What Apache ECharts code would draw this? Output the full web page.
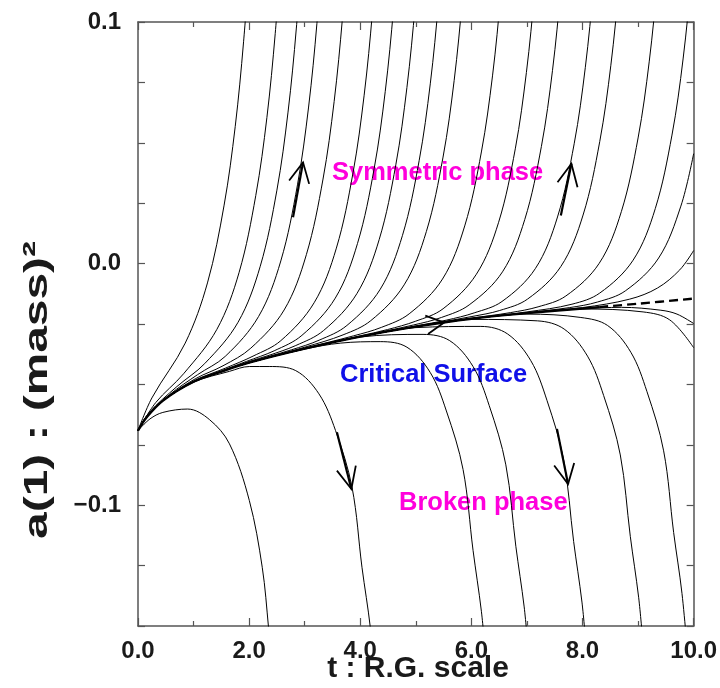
<!DOCTYPE html>
<html>
<head>
  <meta charset="utf-8">
  <title>RG flow of a(1)</title>
  <script src="https://cdn.jsdelivr.net/npm/echarts@6/dist/echarts.min.js"></script>
  <style>html, body { margin: 0; padding: 0; background: #fff; }</style>
</head>
<body>
  <div id="main" style="width: 720px; height: 688px;"></div>

  <script>
    // trajectories that run off into the symmetric phase  [t, a(1)]
    const sym1 = [[0,-0.0691],[0.25,-0.0556],[0.85,-0.0329],[1.25,-0.0080],[1.55,0.0242],[1.75,0.0568],[1.9,0.0918],[2.05,0.1377]];
    const sym2 = [[0,-0.0691],[0.32,-0.0575],[0.82,-0.0456],[1.42,-0.0272],[1.82,-0.0036],[2.12,0.0282],[2.32,0.0605],[2.47,0.0953],[2.62,0.1410]];
    const sym3 = [[0,-0.0691],[0.2,-0.0617],[0.7,-0.0509],[1.2,-0.0414],[1.8,-0.0243],[2.2,-0.0011],[2.5,0.0304],[2.7,0.0627],[2.85,0.0975],[3.0,0.1432]];
    const sym4 = [[0,-0.0691],[0.15,-0.0633],[0.57,-0.0542],[1.07,-0.0460],[1.57,-0.0384],[2.17,-0.0219],[2.57,0.0011],[2.87,0.0326],[3.07,0.0648],[3.22,0.0994],[3.37,0.1451]];
    const sym5 = [[0,-0.0691],[0.15,-0.0638],[0.45,-0.0566],[1.03,-0.0477],[1.53,-0.0423],[2.03,-0.0350],[2.63,-0.0192],[3.03,0.0037],[3.33,0.0350],[3.53,0.0671],[3.68,0.1017],[3.83,0.1474]];
    const sym6 = [[0,-0.0691],[0.15,-0.0638],[0.45,-0.0567],[1,-0.0486],[1.57,-0.0433],[2.07,-0.0383],[2.57,-0.0319],[3.17,-0.0162],[3.57,0.0064],[3.87,0.0376],[4.07,0.0697],[4.22,0.1042],[4.37,0.1497]];
    const sym7 = [[0,-0.0691],[0.15,-0.0638],[0.45,-0.0567],[1,-0.0489],[1.5,-0.0444],[1.95,-0.0405],[2.45,-0.0361],[2.95,-0.0297],[3.55,-0.0143],[3.95,0.0083],[4.25,0.0393],[4.45,0.0713],[4.6,0.1058],[4.75,0.1513]];
    const sym8 = [[0,-0.0691],[0.15,-0.0638],[0.45,-0.0567],[1,-0.0489],[1.5,-0.0447],[2,-0.0405],[2.34,-0.0381],[2.84,-0.0339],[3.34,-0.0277],[3.94,-0.0124],[4.34,0.0099],[4.64,0.0409],[4.84,0.0729],[4.99,0.1074],[5.14,0.1528]];
    const sym9 = [[0,-0.0691],[0.15,-0.0638],[0.45,-0.0567],[1,-0.0489],[1.5,-0.0447],[2,-0.0408],[2.76,-0.0357],[3.26,-0.0317],[3.76,-0.0256],[4.36,-0.0106],[4.76,0.0117],[5.06,0.0426],[5.26,0.0744],[5.41,0.1088],[5.56,0.1542]];
    const sym10 = [[0,-0.0691],[0.15,-0.0638],[0.45,-0.0567],[1,-0.0489],[1.5,-0.0447],[2,-0.0410],[3,-0.0346],[3.69,-0.0295],[4.19,-0.0236],[4.79,-0.0088],[5.19,0.0133],[5.49,0.0441],[5.69,0.0758],[5.84,0.1102],[5.99,0.1556]];
    const sym11 = [[0,-0.0691],[0.15,-0.0638],[0.45,-0.0567],[1,-0.0489],[1.5,-0.0447],[2,-0.0410],[3,-0.0350],[3.88,-0.0299],[4.38,-0.0264],[4.88,-0.0208],[5.48,-0.0064],[5.88,0.0156],[6.18,0.0462],[6.38,0.0777],[6.53,0.1119],[6.68,0.1572]];
    const sym12 = [[0,-0.0691],[0.15,-0.0638],[0.45,-0.0567],[1,-0.0489],[1.5,-0.0447],[2,-0.0410],[3,-0.0352],[4,-0.0299],[4.49,-0.0273],[4.99,-0.0239],[5.49,-0.0187],[6.09,-0.0044],[6.49,0.0171],[6.79,0.0475],[6.99,0.0791],[7.14,0.1133],[7.29,0.1585]];
    const sym13 = [[0,-0.0691],[0.15,-0.0638],[0.45,-0.0567],[1,-0.0489],[1.5,-0.0447],[2,-0.0410],[3,-0.0352],[4,-0.0301],[4.96,-0.0254],[5.46,-0.0223],[5.96,-0.0171],[6.56,-0.0034],[6.96,0.0182],[7.26,0.0485],[7.46,0.0800],[7.61,0.1141],[7.76,0.1593]];
    const sym14 = [[0,-0.0691],[0.15,-0.0638],[0.45,-0.0567],[1,-0.0489],[1.5,-0.0447],[2,-0.0410],[3,-0.0352],[4,-0.0302],[5,-0.0258],[5.55,-0.0234],[6.05,-0.0204],[6.55,-0.0157],[7.15,-0.0021],[7.55,0.0193],[7.85,0.0496],[8.05,0.0811],[8.2,0.1153],[8.35,0.1605]];
    const sym15 = [[0,-0.0691],[0.15,-0.0638],[0.45,-0.0567],[1,-0.0489],[1.5,-0.0447],[2,-0.0410],[3,-0.0352],[4,-0.0302],[5,-0.0260],[6.01,-0.0219],[6.51,-0.0194],[7.01,-0.0147],[7.61,-0.0012],[8.01,0.0201],[8.31,0.0505],[8.51,0.0821],[8.66,0.1163],[8.81,0.1615]];
    const sym16 = [[0,-0.0691],[0.15,-0.0638],[0.45,-0.0567],[1,-0.0489],[1.5,-0.0447],[2,-0.0410],[3,-0.0352],[4,-0.0302],[5,-0.0261],[6,-0.0226],[6.7,-0.0203],[7.2,-0.0179],[7.7,-0.0134],[8.3,0.0001],[8.7,0.0216],[9.0,0.0520],[9.2,0.0835],[9.35,0.1177],[9.5,0.1629]];
    const sym17 = [[0,-0.0691],[0.15,-0.0638],[0.45,-0.0567],[1,-0.0489],[1.5,-0.0447],[2,-0.0410],[3,-0.0352],[4,-0.0302],[5,-0.0261],[6,-0.0228],[7,-0.0200],[7.81,-0.0168],[8.31,-0.0122],[8.91,0.0014],[9.31,0.0228],[9.61,0.0532],[9.81,0.0847],[9.96,0.1189],[10.11,0.1639]];
    const sym18 = [[0,-0.0691],[0.15,-0.0638],[0.45,-0.0567],[1,-0.0489],[1.5,-0.0447],[2,-0.0410],[3,-0.0352],[4,-0.0302],[5,-0.0261],[6,-0.0228],[7,-0.0203],[7.77,-0.0182],[8.27,-0.0159],[8.77,-0.0113],[9.37,0.0023],[9.77,0.0238],[10,0.0455]];
    const sym19 = [[0,-0.0691],[0.15,-0.0638],[0.45,-0.0567],[1,-0.0489],[1.5,-0.0447],[2,-0.0410],[3,-0.0352],[4,-0.0302],[5,-0.0261],[6,-0.0228],[7,-0.0205],[8,-0.0182],[8.85,-0.0147],[9.35,-0.0101],[9.75,-0.0026],[10,0.0054]];

    // trajectories that fall into the broken phase
    const brk1 = [[0,-0.0691],[0.215,-0.0643],[0.447,-0.0616],[0.894,-0.0602],[1.288,-0.0646],[1.646,-0.0746],[2.004,-0.0981],[2.236,-0.1257],[2.349,-0.1506],[2.397,-0.1644]];
    const brk2 = [[0,-0.0691],[0.15,-0.0639],[0.447,-0.0569],[1.002,-0.0491],[1.646,-0.0446],[2.004,-0.0426],[2.361,-0.0426],[2.839,-0.0443],[3.256,-0.0539],[3.555,-0.0691],[3.852,-0.0926],[4.031,-0.1257],[4.181,-0.1506],[4.222,-0.1644]];
    const brk3 = [[0,-0.0691],[0.15,-0.0638],[0.45,-0.0567],[1,-0.0489],[1.5,-0.0447],[2,-0.0410],[3,-0.0354],[3.65,-0.0329],[4.36,-0.0323],[4.84,-0.0346],[5.26,-0.0451],[5.55,-0.0610],[5.85,-0.0852],[6.03,-0.1187],[6.18,-0.1439],[6.25,-0.1609]];
    const brk4 = [[0,-0.0691],[0.15,-0.0638],[0.45,-0.0567],[1,-0.0489],[1.5,-0.0447],[2,-0.0410],[3,-0.0352],[4,-0.0304],[5.13,-0.0293],[5.61,-0.0319],[6.03,-0.0426],[6.32,-0.0587],[6.62,-0.0833],[6.8,-0.1170],[6.95,-0.1421],[7.02,-0.1591]];
    const brk5 = [[0,-0.0691],[0.15,-0.0638],[0.45,-0.0567],[1,-0.0489],[1.5,-0.0447],[2,-0.0410],[3,-0.0352],[4,-0.0302],[5,-0.0265],[6.17,-0.0260],[6.65,-0.0291],[7.07,-0.0402],[7.36,-0.0566],[7.66,-0.0812],[7.84,-0.1150],[7.99,-0.1401],[8.06,-0.1572]];
    const brk6 = [[0,-0.0691],[0.15,-0.0638],[0.45,-0.0567],[1,-0.0489],[1.5,-0.0447],[2,-0.0410],[3,-0.0352],[4,-0.0302],[5,-0.0261],[6,-0.0231],[7.19,-0.0237],[7.67,-0.0271],[8.09,-0.0383],[8.38,-0.0546],[8.68,-0.0792],[8.86,-0.1129],[9.01,-0.1381],[9.08,-0.1551]];
    const brk7 = [[0,-0.0691],[0.15,-0.0638],[0.45,-0.0567],[1,-0.0489],[1.5,-0.0447],[2,-0.0410],[3,-0.0352],[4,-0.0302],[5,-0.0261],[6,-0.0228],[7,-0.0209],[7.97,-0.0223],[8.45,-0.0256],[8.87,-0.0367],[9.16,-0.0530],[9.46,-0.0775],[9.64,-0.1113],[9.79,-0.1365],[9.91,-0.1664]];
    const brk8 = [[0,-0.0691],[0.15,-0.0638],[0.45,-0.0567],[1,-0.0489],[1.5,-0.0447],[2,-0.0410],[3,-0.0352],[4,-0.0302],[5,-0.0261],[6,-0.0228],[7,-0.0205],[8,-0.0187],[8.7,-0.0181],[9.41,-0.0193],[9.7,-0.0209],[10,-0.0248]];
    const brk9 = [[0,-0.0691],[0.15,-0.0638],[0.45,-0.0567],[1,-0.0489],[1.5,-0.0447],[2,-0.0410],[3,-0.0352],[4,-0.0302],[5,-0.0261],[6,-0.0228],[7,-0.0205],[8,-0.0188],[9.09,-0.0200],[9.57,-0.0233],[10,-0.0348]];

    // the critical surface: solid part, then dashed continuation
    const critical = [[0,-0.0691],[0.15,-0.0638],[0.45,-0.0567],[1,-0.0489],[1.5,-0.0447],[2,-0.0410],[3,-0.0352],[4,-0.0302],[5,-0.0261],[6,-0.0228],[7,-0.0205],[8,-0.0186],[8.3,-0.0180]];
    const criticalTail = [[8.3,-0.0180],[9,-0.0166],[10,-0.0145]];

    // flow arrows: shaft and open head (wing, tip, wing)
    const arrowShafts = [
      [[2.79,0.0192],[2.97,0.0419]],
      [[7.61,0.0199],[7.80,0.0413]],
      [[3.58,-0.0698],[3.84,-0.0933]],
      [[7.54,-0.0684],[7.74,-0.0912]]
    ];
    const arrowHeads = [
      [[2.72,0.0344],[2.97,0.0419],[3.08,0.0330]],
      [[7.55,0.0337],[7.80,0.0413],[7.91,0.0316]],
      [[3.58,-0.0857],[3.84,-0.0933],[3.92,-0.0836]],
      [[7.49,-0.0836],[7.74,-0.0912],[7.85,-0.0825]],
      [[5.17,-0.0215],[5.51,-0.0244],[5.22,-0.0291]]
    ];

    const xRange = [0, 10];
    const yRange = [-0.15, 0.1];

    const symFlows = [sym1, sym2, sym3, sym4, sym5, sym6, sym7, sym8, sym9, sym10,
                      sym11, sym12, sym13, sym14, sym15, sym16, sym17, sym18, sym19];
    const brkFlows = [brk1, brk2, brk3, brk4, brk5, brk6, brk7, brk8, brk9];

    const FONT = '"Liberation Sans", Arial, Helvetica, sans-serif';
    const frame = '#555';

    function flow(data) {
      return {
        type: 'line', data: data, smooth: 0.35, symbol: 'none', silent: true,
        lineStyle: { color: '#000', width: 1 }, z: 2
      };
    }

    const series = [];
    symFlows.forEach(d => series.push(flow(d)));
    brkFlows.forEach(d => series.push(flow(d)));
    series.push({
      type: 'line', data: critical, smooth: 0.35, symbol: 'none', silent: true,
      lineStyle: { color: '#000', width: 2.4 }, z: 3
    });
    series.push({
      type: 'line', data: criticalTail, smooth: 0.35, symbol: 'none', silent: true,
      lineStyle: { color: '#000', width: 2.4, type: [9, 5] }, z: 3
    });
    arrowShafts.forEach(d => series.push({
      type: 'line', data: d, symbol: 'none', silent: true,
      lineStyle: { color: '#000', width: 2.2 }, z: 4
    }));
    arrowHeads.forEach(d => series.push({
      type: 'line', data: d, symbol: 'none', silent: true,
      lineStyle: { color: '#000', width: 1.8, join: 'miter' }, z: 4
    }));

    function yLabel(v) {
      const k = Math.round(v * 10);
      if (Math.abs(v * 10 - k) > 1e-6) return '';
      return k < 0 ? '\u2212' + Math.abs(k / 10).toFixed(1) : (k / 10).toFixed(1);
    }

    const tickStyle = { color: frame, width: 1.2 };
    const baseX = {
      type: 'value', min: xRange[0], max: xRange[1], interval: 2,
      axisLine: { onZero: false, lineStyle: { color: frame, width: 1.5 } },
      axisTick: { inside: true, length: 8, lineStyle: tickStyle },
      minorTick: { show: true, splitNumber: 2, length: 5, lineStyle: tickStyle },
      splitLine: { show: false }
    };
    const baseY = {
      type: 'value', min: yRange[0], max: yRange[1], interval: 0.025,
      axisLine: { onZero: false, lineStyle: { color: frame, width: 1.5 } },
      axisTick: { inside: true, length: 7, lineStyle: tickStyle },
      splitLine: { show: false }
    };

    const chart = echarts.init(document.getElementById('main'));
    chart.setOption({
      animation: false,
      backgroundColor: '#fff',
      grid: { left: 138, right: 23, top: 22, bottom: 62 },
      xAxis: [
        Object.assign({}, baseX, {
          position: 'bottom',
          axisLabel: { formatter: v => v.toFixed(1), fontSize: 24, fontWeight: 'bold',
                       color: '#1a1a1a', fontFamily: FONT, margin: 13 }
        }),
        Object.assign({}, baseX, { position: 'top', axisLabel: { show: false } })
      ],
      yAxis: [
        Object.assign({}, baseY, {
          position: 'left',
          axisLabel: { formatter: yLabel, fontSize: 24, fontWeight: 'bold',
                       color: '#1a1a1a', fontFamily: FONT, margin: 17 }
        }),
        Object.assign({}, baseY, { position: 'right', axisLabel: { show: false } })
      ],
      graphic: [
        { type: 'text', x: 418, y: 669, silent: true,
          style: { text: 't : R.G. scale', fill: '#1a1a1a', align: 'center', verticalAlign: 'middle',
                   font: 'bold 30px ' + FONT } },
        // the vertical title is drawn stretched along its length, as in the source figure
        { type: 'text', x: 38, y: 390, rotation: Math.PI / 2, scaleX: 1.45, silent: true,
          style: { text: 'a(1) : (mass)\u00b2', fill: '#1a1a1a', align: 'center', verticalAlign: 'middle',
                   font: 'bold 33px ' + FONT } },
        { type: 'text', x: 332, y: 173, silent: true,
          style: { text: 'Symmetric phase', fill: '#ff00dc', align: 'left', verticalAlign: 'middle',
                   font: 'bold 25.5px ' + FONT } },
        { type: 'text', x: 340, y: 375, silent: true,
          style: { text: 'Critical Surface', fill: '#1010e8', align: 'left', verticalAlign: 'middle',
                   font: 'bold 25.5px ' + FONT } },
        { type: 'text', x: 399, y: 503, silent: true,
          style: { text: 'Broken phase', fill: '#ff00dc', align: 'left', verticalAlign: 'middle',
                   font: 'bold 25.5px ' + FONT } }
      ],
      series: series
    });
  </script>
</body>
</html>
